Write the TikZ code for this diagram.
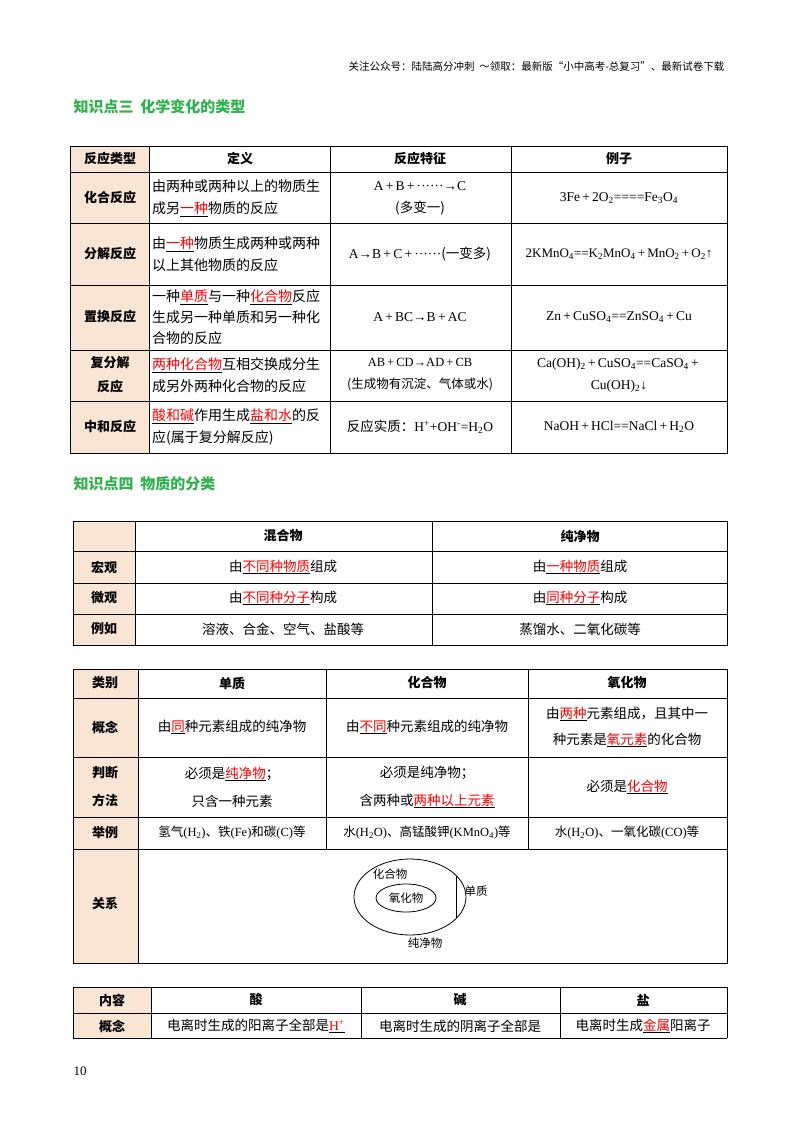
\documentclass[tikz,border=0pt]{standalone}
\usepackage{fontspec}
\setmainfont{Noto Sans CJK SC}
\newfontfamily\lat{Liberation Serif}
\newcommand{\R}[1]{\underline{\textcolor{red}{#1}}}
\newcommand{\Lt}[1]{{\lat #1}}
\newcommand{\sbs}[1]{\textsubscript{#1}}
\newcommand{\pl}{\,+\,}
\definecolor{beige}{HTML}{F8E5D3}
\definecolor{grn}{HTML}{2DB34A}
\begin{document}
\begin{tikzpicture}[x=1pt,y=-1pt,
  tb/.style={line width=0.9pt},
  hd/.style={font=\fontsize{13}{20}\selectfont\bfseries},
  cl/.style={font=\fontsize{13.5}{22}\selectfont,align=center},
  cll/.style={font=\fontsize{14}{22}\selectfont,align=left,anchor=west,inner sep=2pt},
  sec/.style={font=\fontsize{15}{18}\selectfont\bfseries,text=grn,anchor=west}]
\useasboundingbox (0,0) rectangle (800,1132);
\node[font=\fontsize{10.5}{12}\selectfont,anchor=east] (top) at (728,66) {关注公众号：陆陆高分冲刺\ \ ～领取：最新版“小中高考-总复习”、最新试卷下载};
\node[sec] (s3) at (70,107) {知识点三\ \ 化学变化的类型};
% table 1
\fill[beige] (70,146) rectangle (149,453);
\draw[tb] (70,146) rectangle (727,453);
\foreach \y in {172,223,285,350,401} \draw[tb] (70,\y) -- (727,\y);
\foreach \x in {149,330,511} \draw[tb] (\x,146) -- (\x,453);
\node[hd] (h1) at (110,159) {反应类型};
\node[hd] (h2) at (240,159) {定义};
\node[hd] (h3) at (420,159) {反应特征};
\node[hd] (h4) at (619,159) {例子};
\node[hd] (r1) at (110,198) {化合反应};
\node[hd] (r2) at (110,254) {分解反应};
\node[hd] (r3) at (110,317) {置换反应};
\node[hd,align=center,font=\fontsize{13}{24}\selectfont\bfseries] (r4) at (110,375) {复分解\\反应};
\node[hd] (r5) at (110,427) {中和反应};
\node[cll] (d1) at (150,198) {由两种或两种以上的物质生\\成另\R{一种}物质的反应};
\node[cll] (d2) at (150,254) {由\R{一种}物质生成两种或两种\\以上其他物质的反应};
\node[cll,font=\fontsize{14}{21}\selectfont] (d3) at (150,317) {一种\R{单质}与一种\R{化合物}反应\\生成另一种单质和另一种化\\合物的反应};
\node[cll] (d4) at (150,375) {\R{两种化合物}互相交换成分生\\成另外两种化合物的反应};
\node[cll] (d5) at (150,427) {\R{酸和碱}作用生成\R{盐和水}的反\\应(属于复分解反应)};
\node[cl] (f1) at (420,198) {\Lt{A\pl B\pl ······→C}\\(多变一)};
\node[cl] (f2) at (420,254) {\Lt{A→B\pl C\pl ······}(一变多)};
\node[cl] (f3) at (420,317) {\Lt{A\pl BC→B\pl AC}};
\node[cl,font=\fontsize{12.5}{22}\selectfont] (f4) at (420,375) {\Lt{AB\pl CD→AD\pl CB}\\(生成物有沉淀、气体或水)};
\node[cl] (f5) at (420,427) {反应实质：\Lt{H\textsuperscript{+}+OH\textsuperscript{-}=H\sbs{2}O}};
\node[cl] (e1) at (619,198) {\Lt{3Fe\pl 2O\sbs{2}====Fe\sbs{3}O\sbs{4}}};
\node[cl,font=\fontsize{13}{22}\selectfont] (e2) at (619,254) {\Lt{2KMnO\sbs{4}==K\sbs{2}MnO\sbs{4}\pl MnO\sbs{2}\pl O\sbs{2}↑}};
\node[cl] (e3) at (619,317) {\Lt{Zn\pl CuSO\sbs{4}==ZnSO\sbs{4}\pl Cu}};
\node[cl] (e4) at (619,375) {\Lt{Ca(OH)\sbs{2}\pl CuSO\sbs{4}==CaSO\sbs{4}\pl }\\\Lt{Cu(OH)\sbs{2}↓}};
\node[cl] (e5) at (619,427) {\Lt{NaOH\pl HCl==NaCl\pl H\sbs{2}O}};
\node[sec] (s4) at (70,484) {知识点四\ \ 物质的分类};
% table 2
\fill[beige] (73,521) rectangle (135,645);
\draw[tb] (73,521) rectangle (727,645);
\foreach \y in {551,583,614} \draw[tb] (73,\y) -- (727,\y);
\foreach \x in {135,432} \draw[tb] (\x,521) -- (\x,645);
\node[hd] (m1) at (283,536) {混合物};
\node[hd] (m2) at (580,536) {纯净物};
\node[hd] (ma) at (104,567) {宏观};
\node[hd] (mb) at (104,598) {微观};
\node[hd] (mc) at (104,629) {例如};
\node[cl] (n1) at (283,567) {由\R{不同种物质}组成};
\node[cl] (n2) at (580,567) {由\R{一种物质}组成};
\node[cl] (n3) at (283,598) {由\R{不同种分子}构成};
\node[cl] (n4) at (580,598) {由\R{同种分子}构成};
\node[cl] (n5) at (283,629) {溶液、合金、空气、盐酸等};
\node[cl] (n6) at (580,629) {蒸馏水、二氧化碳等};
% table 3
\fill[beige] (73,669) rectangle (138,963);
\draw[tb] (73,669) rectangle (727,963);
\foreach \y in {698,757,817,849} \draw[tb] (73,\y) -- (727,\y);
\draw[tb] (138,669) -- (138,963);
\foreach \x in {326,528} \draw[tb] (\x,669) -- (\x,849);
\node[hd] (k0) at (105,683) {类别};
\node[hd] (k1) at (232,683) {单质};
\node[hd] (k2) at (427,683) {化合物};
\node[hd] (k3) at (627,683) {氧化物};
\node[hd] (ka) at (105,727) {概念};
\node[hd,align=center,font=\fontsize{13}{28}\selectfont\bfseries] (kb) at (105,787) {判断\\方法};
\node[hd] (kc) at (105,833) {举例};
\node[hd] (kd) at (105,903) {关系};
\node[cl] (g1) at (232,727) {由\R{同}种元素组成的纯净物};
\node[cl] (g2) at (427,727) {由\R{不同}种元素组成的纯净物};
\node[cl,font=\fontsize{13.5}{26}\selectfont] (g3) at (627,727) {由\R{两种}元素组成，且其中一\\种元素是\R{氧元素}的化合物};
\node[cl,font=\fontsize{13.5}{28}\selectfont] (j1) at (232,787) {必须是\R{纯净物}；\\只含一种元素};
\node[cl,font=\fontsize{13.5}{28}\selectfont] (j2) at (427,787) {必须是纯净物；\\含两种或\R{两种以上元素}};
\node[cl] (j3) at (627,787) {必须是\R{化合物}};
\node[cl,font=\fontsize{12.5}{22}\selectfont] (x1) at (232,833) {氢气\Lt{(H\sbs{2})}、铁\Lt{(Fe)}和碳\Lt{(C)}等};
\node[cl,font=\fontsize{12.5}{22}\selectfont] (x2) at (427,833) {水\Lt{(H\sbs{2}O)}、高锰酸钾\Lt{(KMnO\sbs{4})}等};
\node[cl,font=\fontsize{12.5}{22}\selectfont] (x3) at (627,833) {水\Lt{(H\sbs{2}O)}、一氧化碳\Lt{(CO)}等};
\begin{scope}
\clip (410,897) ellipse [x radius=56pt, y radius=38pt];
\draw[line width=0.8pt] (456,850) -- (456,940);
\end{scope}
\draw[line width=0.8pt] (410,897) ellipse [x radius=56pt, y radius=38pt];
\draw[line width=0.8pt] (406,898) ellipse [x radius=30pt, y radius=14pt];
\node[font=\fontsize{11.5}{13}\selectfont] (c1) at (390,874) {化合物};
\node[font=\fontsize{11.5}{13}\selectfont] (c2) at (406,898) {氧化物};
\node[font=\fontsize{11.5}{13}\selectfont] (c3) at (476,891) {单质};
\node[font=\fontsize{11.5}{13}\selectfont] (c4) at (425,943) {纯净物};
% table 4
\fill[beige] (73,987) rectangle (151,1038);
\draw[tb] (73,987) -- (727,987) (73,1013) -- (727,1013) (73,1038) -- (727,1038);
\foreach \x in {73,151,361,560,727} \draw[tb] (\x,987) -- (\x,1038);
\node[hd] (q0) at (112,1000) {内容};
\node[hd] (q1) at (256,1000) {酸};
\node[hd] (q2) at (460,1000) {碱};
\node[hd] (q3) at (643,1000) {盐};
\node[hd] (qa) at (112,1026) {概念};
\node[cl] (p1) at (256,1026) {电离时生成的阳离子全部是\R{\Lt{H\textsuperscript{+}}}};
\node[cl] (p2) at (460,1026) {电离时生成的阴离子全部是};
\node[cl] (p3) at (643,1026) {电离时生成\R{金属}阳离子};
\node[font=\lat\fontsize{13}{14}\selectfont] (pg) at (80,1071) {10};
\end{tikzpicture}
\end{document}
